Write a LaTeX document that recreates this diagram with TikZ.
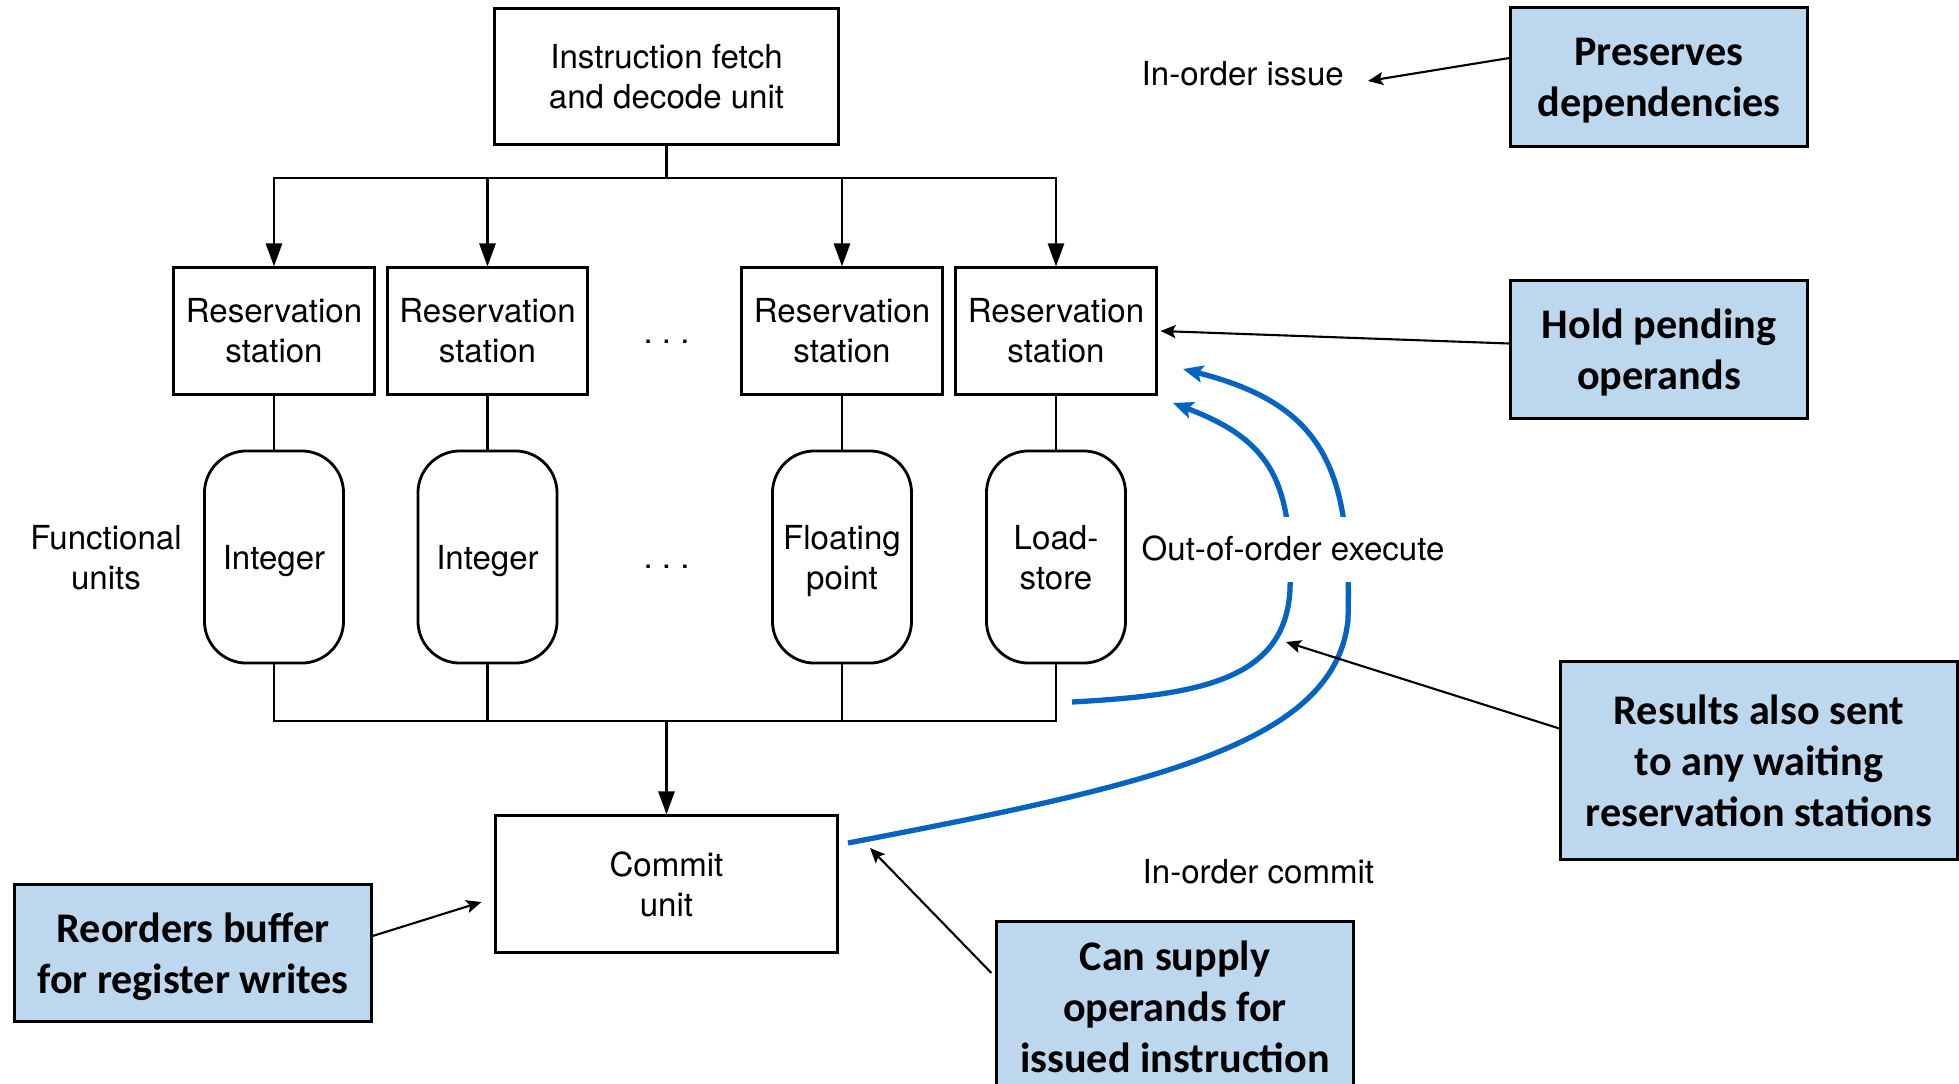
\documentclass[tikz,border=0pt]{standalone}
\usepackage{fontspec}
\setmainfont{TeX Gyre Heros}
\newfontfamily\calloutfont{Carlito}
\usetikzlibrary{arrows.meta,calc}

\definecolor{calloutfill}{RGB}{189,215,238}
\definecolor{flowblue}{RGB}{5,99,193}

\begin{document}
\begin{tikzpicture}[x=0.01cm,y=-0.01cm,
  unitfont/.style={font=\fontsize{9.4}{11.4}\selectfont},
  unitbox/.style={draw, line width=0.85pt, inner sep=0pt, align=center, unitfont},
  rsbox/.style={unitbox, minimum width=2cm, minimum height=1.26cm},
  fubox/.style={unitbox, rounded corners=0.42cm, minimum width=1.39cm, minimum height=2.12cm,
    line width=0.8pt, text depth=0pt},
  callout/.style={draw, line width=0.85pt, fill=calloutfill, inner sep=0pt, align=center,
    text depth=0pt, font=\calloutfont\bfseries\fontsize{12}{14.5}\selectfont},
  phase/.style={unitfont, inner sep=0pt, align=center},
  wire/.style={line width=0.77pt},
  feed/.style={wire, -{Triangle[length=0.23cm,width=0.16cm]}},
  note/.style={line width=0.6pt, -{Stealth[length=0.15cm,width=0.13cm,inset=0.03cm]}},
  bypass/.style={draw=flowblue, line width=1.5pt, -{Stealth[length=0.2cm,width=0.17cm,inset=0.04cm]}},
]
\useasboundingbox (0,0) rectangle (1959,1084);
\clip (0,0) rectangle (1959,1084);
\fill[white] (0,0) rectangle (1959,1084);

% issue stage
\node[unitbox, minimum width=3.43cm, minimum height=1.35cm] (ifu) at (666.5,76.5) {Instruction fetch\\and decode unit};

% reservation stations and functional units
\foreach \n/\x in {1/274,2/487.5,3/842,4/1056}
  \node[rsbox] (rs\n) at (\x,331) {Reservation\\station};
\node[fubox] (fu1) at (274,557) {Integer};
\node[fubox] (fu2) at (487.5,557) {Integer};
\node[fubox] (fu3) at (842,557) {Floating\\point};
\node[fubox] (fu4) at (1056,557) {Load-\\store};

\node[phase] (dotsrs) at (666.5,342) {.\ .\ .};
\node[phase] (dotsfu) at (666.5,567) {.\ .\ .};
\node[phase, text depth=0pt] (fulabel) at (106,557) {Functional\\units};

% commit stage
\node[unitbox, minimum width=3.41cm, minimum height=1.36cm] (commit) at (666.5,884) {Commit\\unit};

% dispatch bus
\coordinate (issuebus) at (666.5,178);
\draw[wire] (ifu.south) -- (issuebus);
\draw[wire, line cap=rect] (issuebus -| rs1) -- (issuebus -| rs4);
\foreach \n in {1,...,4}
  \draw[feed] (issuebus -| rs\n) -- (rs\n.north);

% station to unit links
\foreach \n in {1,...,4}
  \draw[wire] (rs\n.south) -- (fu\n.north);

% result bus
\coordinate (resultbus) at (666.5,721);
\draw[wire, line cap=rect] (fu1.south) |- (resultbus -| fu4) -- (fu4.south);
\draw[wire] (fu2.south) -- (fu2.south |- resultbus);
\draw[wire] (fu3.south) -- (fu3.south |- resultbus);
\draw[feed] (resultbus) -- (commit.north);

% forwarding paths back to the stations
\coordinate (fwdstart) at (1072,702);
\coordinate (fwdtip) at (1173,403);
\coordinate (cmtstart) at (848,843);
\coordinate (cmttip) at (1183,369);
\draw[bypass] (fwdstart) .. controls (1200,695) and (1285,680) .. (1290,590)
  .. controls (1293,480) and (1270,440) .. (fwdtip);
\draw[bypass] (cmtstart) .. controls (1150,785) and (1335,745) .. (1348,620)
  .. controls (1352,470) and (1325,405) .. (cmttip);

% phase labels
\node[phase, anchor=base west] (issue) at (1141,85) {In-order issue};
\node[phase, anchor=base west, fill=white, text height=0.43cm, text depth=0.22cm] (ooo) at (1141,560) {Out-of-order execute};
\node[phase, anchor=base west] (commitlabel) at (1142,883) {In-order commit};

% callouts
\node[callout, minimum width=2.96cm, minimum height=1.38cm] (preserve) at (1659,77) {Preserves\\dependencies};
\node[callout, minimum width=2.96cm, minimum height=1.37cm] (hold) at (1659,349.5) {Hold pending\\operands};
\node[callout, minimum width=3.96cm, minimum height=1.97cm] (results) at (1759,760.5) {Results also sent\\to any waiting\\reservation stations};
\node[callout, minimum width=3.56cm, minimum height=1.70cm] (supply) at (1175,1007) {Can supply\\operands for\\issued instruction};
\node[callout, minimum width=3.56cm, minimum height=1.36cm] (reorder) at (193,953) {Reorders buffer\\for register writes};

% callout pointers
\coordinate (issuetip) at (1368,81);
\coordinate (resultstip) at (1286,642);
\coordinate (supplytip) at (870,848);
\draw[note] ($(preserve.west)+(0,-19)$) -- (issuetip);
\draw[note] ($(hold.west)+(0,-6)$) -- ($(rs4.east)+(3,0)$);
\draw[note] ($(results.west)+(0,-32)$) -- (resultstip);
\draw[note] ($(supply.west)+(-4,-34)$) -- (supplytip);
\draw[note] ($(reorder.east)+(0,-17)$) -- ($(commit.west)+(-13,18)$);
\end{tikzpicture}
\end{document}
